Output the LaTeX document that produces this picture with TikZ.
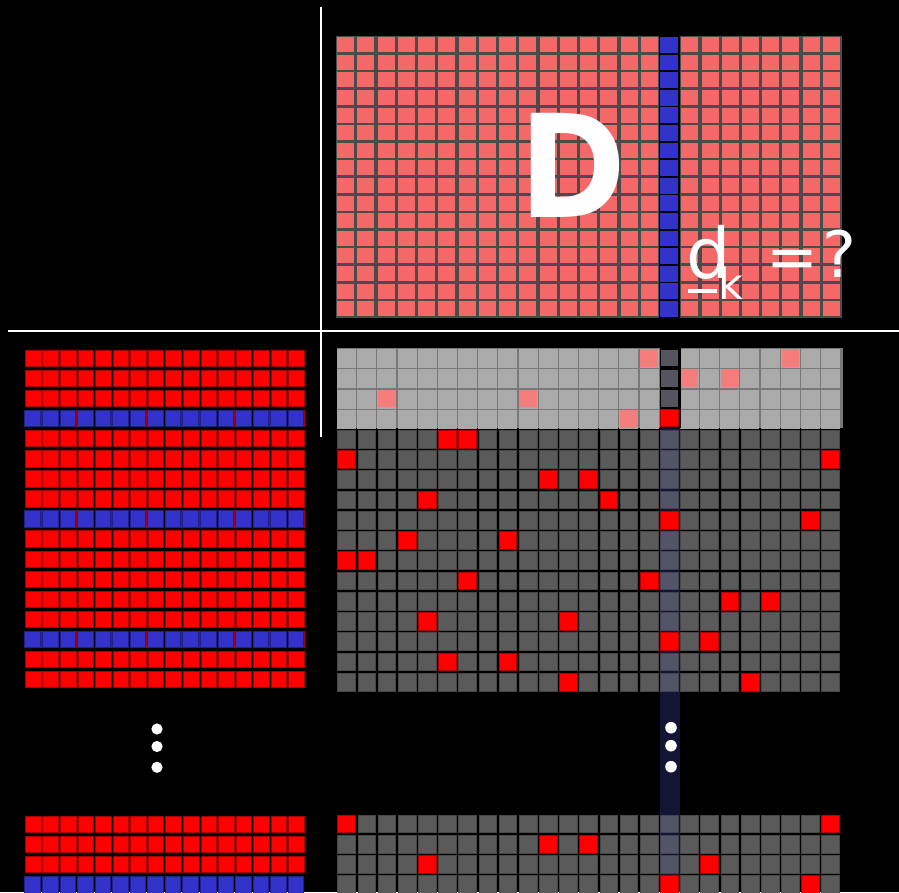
\documentclass[tikz,border=0pt]{standalone}
\usepackage{fontspec}
\setmainfont{DejaVu Sans}
\newfontfamily\dvsans{DejaVu Sans}
\definecolor{cred}{RGB}{255,0,0}
\definecolor{cblue}{RGB}{51,51,204}
\definecolor{cgray}{RGB}{90,90,90}
\definecolor{pinkD}{RGB}{244,104,104}
\definecolor{gapD}{RGB}{75,75,75}
\definecolor{noisegray}{RGB}{170,170,170}
\definecolor{noisegap}{RGB}{120,120,120}
\definecolor{noisepink}{RGB}{245,125,125}
\definecolor{stripbg}{RGB}{20,20,52}
\definecolor{stripcell}{RGB}{84,84,104}
\definecolor{darkcell}{RGB}{85,85,95}
\tikzset{
  lred/.style={fill=cred, draw=cred!65!black, line width=0.6pt},
  lblue/.style={fill=cblue, draw=cblue!65!black, line width=0.6pt},
  gcell/.style={fill=cgray, draw=cgray!80!black, line width=0.8pt},
  rcell/.style={fill=cred, draw=cred!70!black, line width=0.8pt},
  scell/.style={fill=stripcell, draw=stripcell!80!black, line width=0.8pt},
  dkcell/.style={fill=darkcell, draw=black, line width=0.8pt},
  npink/.style={fill=noisepink},
  ngray/.style={fill=noisegray},
  dpink/.style={fill=pinkD},
  dblue/.style={fill=cblue},
  wdot/.style={fill=white},
  wline/.style={draw=white, line width=2pt},
  wtext/.style={text=white, anchor=base west, inner sep=0pt}
}
\begin{document}
\begin{tikzpicture}[x=1pt,y=-1pt]
\useasboundingbox (0,0) rectangle (899,892);
\fill[black] (0,0) rectangle (899,892);
% axes lines
\coordinate (vt) at (321,7);
\coordinate (vb) at (321,437);
\coordinate (hl) at (8,330.5);
\coordinate (hr) at (899,330.5);
\draw[wline] (vt) -- (vb);
\draw[wline] (hl) -- (hr);
% ---------------- D matrix ----------------
\fill[gapD] (336,36) rectangle (842,318);
\foreach \r in {0,...,15} {
  \pgfmathsetmacro\yy{36+17.6*\r+1.2}
  \foreach \c in {0,...,24} {
    \pgfmathsetmacro\xx{336+20.24*\c+1.2}
    \path[dpink] (\xx,\yy) rectangle ++(17,15);
  }
}
\fill[black] (658.6,36) rectangle (680,318);
\foreach \r in {0,...,15} {
  \pgfmathsetmacro\yy{36+17.6*\r+0.9}
  \path[dblue] (659.8,\yy) rectangle ++(18.2,15.8);
}
% ---------------- code rows 0-3 (noisy) ----------------
\fill[noisegap] (336.7,348.3) rectangle (843,427.5);
\foreach \r in {0,...,3} {
  \pgfmathsetmacro\yy{349.2+20.25*\r}
  \foreach \c in {0,...,24} {
    \pgfmathsetmacro\xx{337.8+20.17*\c-0.8}
    \path[ngray] (\xx,\yy) rectangle ++(19,18.8);
  }
}
\foreach \r/\c in {0/15,0/22,1/17,1/19,2/2,2/9,3/14} {
  \pgfmathsetmacro\yy{349.2+20.25*\r}
  \pgfmathsetmacro\xx{337.8+20.17*\c}
  \path[npink] (\xx,\yy) rectangle ++(17.7,17.7);
}
\fill[black] (659.5,348.3) rectangle (680.5,427.5);
\foreach \r in {0,1,2} {
  \pgfmathsetmacro\yy{349.2+20.25*\r}
  \path[dkcell] (660.5,\yy) rectangle ++(18.2,17.5);
}
\path[rcell] (660.5,409.2) rectangle ++(18.2,17.5);
% ---------------- strip of atom 16 ----------------
\fill[stripbg] (659.8,427.5) rectangle (680.2,892);
% ---------------- code rows 4-16 ----------------
\foreach \r in {4,...,16} {
  \pgfmathsetmacro\yy{349.2+20.25*\r}
  \foreach \c in {0,...,24} {
    \pgfmathsetmacro\xx{337.8+20.17*\c}
    \ifnum\c=16
      \path[scell] (\xx,\yy) rectangle ++(17.7,17.7);
    \else
      \path[gcell] (\xx,\yy) rectangle ++(17.7,17.7);
    \fi
  }
}
\foreach \r/\c in {4/5,4/6,5/0,5/24,6/10,6/12,7/4,7/13,8/16,8/23,9/3,9/8,10/0,10/1,11/6,11/15,12/19,12/21,13/4,13/11,14/16,14/18,15/5,15/8,16/11,16/20} {
  \pgfmathsetmacro\yy{349.2+20.25*\r}
  \pgfmathsetmacro\xx{337.8+20.17*\c}
  \path[rcell] (\xx,\yy) rectangle ++(17.7,17.7);
}
% ---------------- code bottom rows ----------------
\foreach \r in {0,...,3} {
  \pgfmathsetmacro\yy{815+20.2*\r}
  \foreach \c in {0,...,24} {
    \pgfmathsetmacro\xx{337.8+20.17*\c}
    \ifnum\c=16
      \path[scell] (\xx,\yy) rectangle ++(17.7,17.7);
    \else
      \path[gcell] (\xx,\yy) rectangle ++(17.7,17.7);
    \fi
  }
}
\foreach \r/\c in {0/0,0/24,1/10,1/12,2/4,2/18,3/16,3/23} {
  \pgfmathsetmacro\yy{815+20.2*\r}
  \pgfmathsetmacro\xx{337.8+20.17*\c}
  \path[rcell] (\xx,\yy) rectangle ++(17.7,17.7);
}
% ---------------- left signal grid ----------------
\foreach \r in {0,...,16} {
  \pgfmathsetmacro\yy{350.2+20.06*\r}
  \foreach \c in {0,...,15} {
    \pgfmathsetmacro\xx{25.2+17.56*\c}
    \path[lred] (\xx,\yy) rectangle ++(15.6,16.3);
  }
}
\foreach \r in {3,8,14} {
  \pgfmathsetmacro\yy{350.2+20.06*\r}
  \foreach \c in {0,...,15} {
    \pgfmathsetmacro\xx{24.7+17.56*\c}
    \path[lblue] (\xx,\yy) rectangle ++(15.6,16.3);
  }
}
\foreach \r in {0,1,2} {
  \pgfmathsetmacro\yy{816.2+20.1*\r}
  \foreach \c in {0,...,15} {
    \pgfmathsetmacro\xx{25.2+17.56*\c}
    \path[lred] (\xx,\yy) rectangle ++(15.6,16.3);
  }
}
\foreach \c in {0,...,15} {
  \pgfmathsetmacro\xx{24.7+17.56*\c}
  \path[lblue] (\xx,876.5) rectangle ++(15.6,16.3);
}
% ---------------- dots ----------------
\fill[wdot] (157,729) circle (5.6);
\fill[wdot] (157,746.5) circle (5.6);
\fill[wdot] (157,767.3) circle (5.6);
\fill[wdot] (671,727.7) circle (5.8);
\fill[wdot] (671,745.7) circle (5.8);
\fill[wdot] (671,766.7) circle (5.8);
% ---------------- labels ----------------
\node[wtext, font=\dvsans\bfseries\fontsize{143}{143}\selectfont] (Dlab) at (519.5,217) {\scalebox{0.9}[1]{D}};
\node[wtext, font=\fontsize{70}{70}\selectfont] (dlab) at (686,278) {\makebox[35.5pt][l]{d}};
\draw[white, line width=4pt] (dlab.base west) ++(2,13) -- ++(29,0);
\node[wtext, font=\fontsize{43}{43}\selectfont] (klab) at (722.5,299) {\hspace{-3.9pt}k};
\node[wtext, font=\fontsize{62}{62}\selectfont] (eqlab) at (766,278) {=};
\node[wtext, font=\fontsize{64}{64}\selectfont] (qlab) at (822,277) {?};
\end{tikzpicture}
\end{document}
